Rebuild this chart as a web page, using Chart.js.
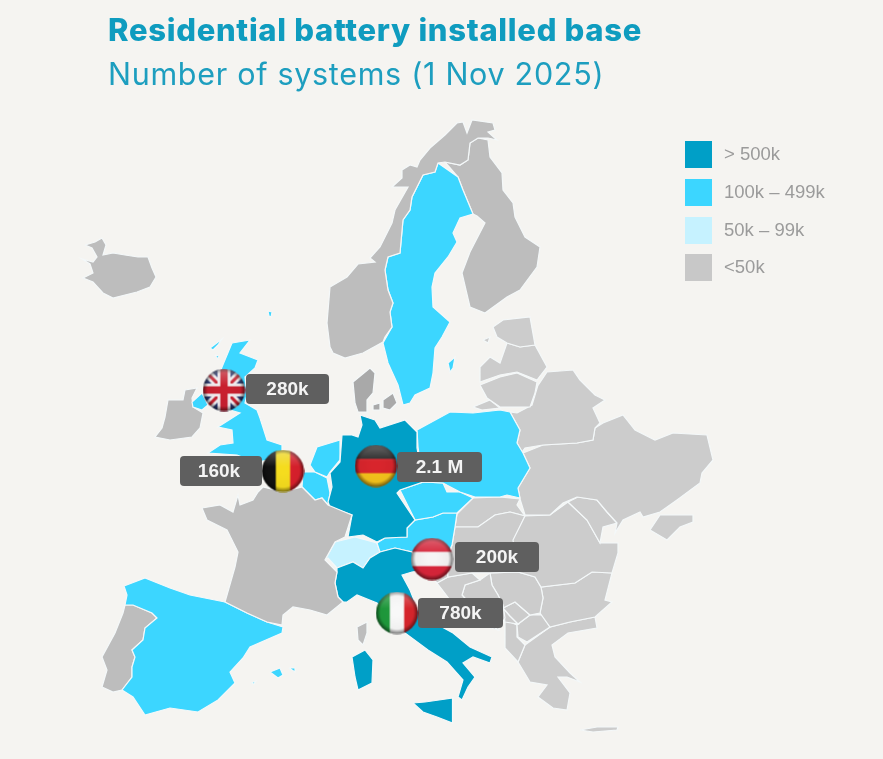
<!DOCTYPE html>
<html>
<head>
<meta charset="utf-8">
<title>Residential battery installed base</title>
<script src="https://cdn.jsdelivr.net/npm/chart.js@4/dist/chart.umd.min.js"></script>
<style>
    html, body { margin: 0; padding: 0; background: #f5f4f1; }
    #wrap { position: relative; width: 883px; height: 759px; overflow: hidden; }
    #mapChart { position: absolute; left: 0; top: 0; }
    .title, .subtitle { position: absolute; left: 108px; white-space: nowrap; color: #0f9cbf; font-family: Inter, sans-serif; }
    .title { top: 11px; font-size: 31px; font-weight: 800; letter-spacing: 0.7px; }
    .subtitle { top: 55px; font-size: 30.5px; font-weight: 400; letter-spacing: 0.7px; color: #1d9ebf; }
    .legend-swatch { position: absolute; left: 685px; width: 27px; height: 27px; }
    .legend-label { position: absolute; left: 724px; font: 18.5px "Liberation Sans", sans-serif; color: #9b9b9b; white-space: nowrap; }
</style>
</head>
<body>
<div id="wrap">
    <canvas id="mapChart" width="883" height="759"></canvas>
    <div class="title">Residential battery installed base</div>
    <div class="subtitle">Number of systems (1 Nov 2025)</div>
</div>
<script>
// Legend tiers
const tierLabels = ['> 500k', '100k – 499k', '50k – 99k', '<50k'];
const tierColors = ['#009fc7', '#3cd6ff', '#c6f2ff', '#c8c8c8'];
const legendTops = [141, 179, 217, 254];

// Called out countries
const calloutCountries = ['UK', 'Belgium', 'Germany', 'Austria', 'Italy'];
const calloutValues = ['280k', '160k', '2.1 M', '200k', '780k'];
const flagX = [224, 283, 376, 432, 397];
const flagY = [390, 471, 466, 559, 613];
const badgeLeft = [246, 180, 397, 455, 418];
const badgeRight = [329, 262, 482, 539, 503];
const badgeMid = [389, 471, 467, 557, 613];

// Which tier each country sits in
const tierHigh = ['Germany', 'Italy'];
const tierMid = ['UK', 'Belgium', 'Netherlands', 'Poland', 'Czechia', 'Austria', 'Spain', 'Sweden'];
const tierLow = ['Switzerland'];
const westGreys = ['Norway', 'Finland', 'France', 'Portugal', 'Ireland', 'Iceland', 'Corsica'];
const darkGreys = ['Denmark'];

// Outlines, x/y in image pixels, one list per land part
const iceland = [[85,245],[95,242],[102,238],[106,245],[103,255],[113,253],[125,255],[138,257],[148,257],[152,268],[156,277],[150,287],[137,292],[113,298],[103,293],[93,282],[83,278],[93,273],[90,264],[82,259],[93,262],[97,257],[92,248]];
const norway = [[330,347],[327,323],[330,287],[347,277],[358,264],[375,262],[370,258],[380,247],[392,223],[395,210],[408,187],[392,187],[402,178],[402,170],[410,165],[417,167],[420,160],[430,148],[445,135],[457,123],[463,122],[467,133],[472,120],[493,123],[495,130],[488,132],[497,140],[488,138],[478,138],[470,143],[468,160],[460,165],[445,162],[438,163],[435,172],[423,175],[417,187],[412,197],[410,210],[403,220],[400,253],[388,257],[385,270],[388,290],[393,303],[390,312],[392,327],[385,337],[383,342],[363,353],[345,358],[333,353]];
const sweden = [[438,163],[458,177],[463,190],[473,214],[460,218],[453,233],[457,242],[448,257],[435,273],[432,287],[433,307],[450,322],[442,337],[435,348],[433,373],[430,388],[415,395],[410,403],[403,405],[398,385],[388,363],[383,343],[392,327],[390,312],[393,303],[388,290],[385,270],[388,257],[400,253],[403,220],[410,210],[412,197],[417,187],[423,175],[435,172]];
const gotland = [[448,363],[455,357],[453,368],[450,372]];
const finland = [[445,162],[460,165],[468,160],[470,143],[478,138],[488,140],[490,157],[502,173],[503,190],[513,203],[515,217],[525,237],[540,247],[537,267],[520,290],[507,297],[485,313],[470,307],[462,273],[470,252],[485,223],[477,216],[473,214],[463,190],[458,177]];
const jutland = [[353,382],[370,368],[375,373],[373,393],[367,400],[367,412],[358,412],[355,403]];
const funen = [[373,405],[380,403],[380,410],[373,410]];
const zealand = [[383,400],[393,393],[397,403],[390,410],[383,408]];
const britain = [[232,343],[250,340],[240,353],[258,360],[255,368],[245,377],[247,395],[245,403],[257,410],[260,418],[267,440],[282,445],[282,453],[270,460],[255,462],[237,455],[208,453],[220,445],[233,443],[232,430],[218,427],[240,413],[230,410],[235,400],[225,390],[218,378],[222,367]];
const northernIreland = [[192,402],[202,393],[208,405],[202,410],[193,407]];
const hebrides = [[210,348],[222,339],[218,345],[213,350]];
const skye = [[215,355],[219,356],[218,359]];
const shetland = [[268,311],[272,312],[271,317],[269,316]];
const ireland = [[185,390],[197,388],[192,398],[193,407],[203,413],[200,428],[192,437],[170,440],[155,437],[162,428],[165,417],[168,400],[183,400]];
const france = [[202,508],[220,505],[233,512],[238,495],[240,505],[253,500],[258,492],[263,487],[283,492],[302,487],[315,500],[322,498],[328,505],[352,515],[345,537],[335,542],[325,560],[337,572],[335,583],[338,597],[343,602],[327,615],[310,610],[293,607],[283,615],[282,625],[267,622],[247,613],[225,602],[235,567],[238,552],[227,530],[207,520]];
const spain = [[124,586],[145,578],[170,588],[190,595],[225,602],[247,613],[267,622],[283,627],[282,633],[250,647],[243,658],[230,672],[235,683],[218,700],[198,712],[170,708],[145,715],[133,697],[122,690],[132,677],[132,667],[135,657],[132,650],[143,640],[145,628],[157,618],[152,613],[133,605],[125,605],[127,595]];
const mallorca = [[270,672],[280,668],[283,675],[278,678]];
const menorca = [[289,668],[295,668],[295,672]];
const ibiza = [[251,683],[256,681],[254,684]];
const portugal = [[125,605],[133,605],[152,613],[157,618],[145,628],[143,640],[132,650],[135,657],[132,667],[132,677],[122,690],[113,692],[102,687],[107,670],[102,657],[115,633],[123,613]];
const corsica = [[357,627],[367,622],[367,633],[363,645],[358,640]];
const sardinia = [[352,657],[365,650],[373,660],[372,683],[358,690],[355,677]];
const italy = [[337,568],[353,562],[363,568],[370,558],[380,552],[395,548],[412,552],[425,570],[412,572],[402,575],[410,590],[420,615],[453,633],[470,647],[492,657],[490,663],[473,657],[463,663],[475,677],[468,687],[462,700],[458,697],[463,680],[447,662],[428,650],[405,633],[377,603],[357,595],[347,602],[343,602],[338,597],[335,583],[337,572]];
const sicily = [[413,703],[425,702],[453,698],[453,708],[452,723],[437,717],[423,712]];
const germany = [[360,415],[375,420],[380,428],[405,420],[417,432],[417,448],[423,482],[400,490],[397,493],[415,520],[407,528],[407,537],[385,538],[377,542],[363,535],[348,537],[352,515],[330,507],[328,502],[332,487],[330,473],[340,462],[342,435],[352,435],[358,437],[362,425]];
const netherlands = [[310,465],[317,447],[340,440],[340,460],[330,472],[327,477],[315,472]];
const belgium = [[303,472],[315,472],[327,478],[330,493],[328,505],[322,498],[315,500],[302,487]];
const poland = [[417,430],[450,412],[473,413],[500,410],[510,412],[520,430],[517,443],[523,453],[530,468],[518,488],[520,498],[507,495],[500,497],[475,497],[460,492],[443,483],[423,482],[418,447]];
const czechia = [[400,490],[423,482],[443,483],[447,492],[460,492],[473,498],[457,513],[443,513],[433,517],[415,520]];
const austria = [[407,528],[415,520],[433,517],[443,513],[457,513],[455,527],[452,545],[445,560],[425,570],[412,552],[395,548],[380,552],[377,543],[385,538],[407,537]];
const switzerland = [[325,560],[335,542],[355,537],[377,543],[380,552],[370,558],[363,568],[353,562],[337,568],[328,558]];
const estonia = [[493,327],[503,320],[530,317],[535,345],[520,347],[507,343],[497,337]];
const saaremaa = [[483,340],[490,337],[488,343]];
const latvia = [[480,367],[490,357],[500,363],[507,343],[520,347],[535,345],[547,367],[537,380],[517,372],[500,375],[480,382]];
const lithuania = [[480,385],[500,377],[517,373],[537,382],[535,393],[530,407],[500,407],[487,398]];
const kaliningrad = [[473,407],[490,400],[500,408],[482,410]];
const belarus = [[537,387],[547,372],[573,370],[580,380],[595,395],[605,400],[593,408],[600,423],[595,428],[593,440],[577,443],[543,445],[525,448],[522,452],[517,443],[520,430],[510,412],[517,413],[532,405],[538,385]];
const ukraine = [[523,453],[543,445],[577,443],[593,440],[595,428],[603,423],[623,415],[635,430],[655,440],[673,433],[707,435],[713,460],[702,473],[700,483],[677,500],[660,512],[643,517],[640,512],[623,520],[615,533],[617,523],[607,512],[597,500],[577,497],[563,503],[550,515],[525,515],[520,499],[518,488],[530,468]];
const crimea = [[650,530],[660,515],[670,515],[693,515],[693,522],[680,527],[667,540]];
const moldova = [[568,502],[578,497],[597,500],[607,512],[617,523],[603,527],[600,543],[587,520]];
const romania = [[525,516],[550,515],[568,502],[587,520],[600,543],[618,543],[618,553],[612,573],[592,572],[575,583],[541,587],[535,577],[518,572],[513,540]];
const hungary = [[455,527],[478,527],[495,515],[510,512],[525,516],[515,538],[513,550],[518,572],[490,573],[472,573],[448,577],[447,560],[452,545]];
const slovakia = [[457,514],[473,498],[500,497],[520,499],[517,505],[525,516],[510,512],[495,515],[478,527],[455,527]];
const slovenia = [[425,570],[445,560],[448,577],[437,583]];
const croatia = [[437,583],[448,577],[472,573],[480,580],[465,585],[462,595],[480,615],[498,630],[480,625],[450,600]];
const bosnia = [[465,585],[480,580],[490,573],[492,585],[498,595],[503,605],[505,618],[498,630],[480,615],[462,595]];
const serbia = [[490,573],[518,572],[535,577],[541,587],[543,598],[540,613],[530,615],[515,602],[503,608],[498,595],[492,585]];
const kosovo = [[503,608],[515,602],[530,615],[518,624],[510,616]];
const montenegro = [[503,608],[510,616],[518,624],[505,622]];
const bulgaria = [[541,587],[575,583],[592,572],[612,573],[605,600],[612,602],[595,617],[570,622],[550,627],[540,613],[543,598]];
const macedonia = [[517,625],[530,615],[542,615],[550,627],[527,642],[518,637]];
const albania = [[505,620],[517,625],[517,637],[525,645],[518,662],[505,648]];
const greece = [[525,645],[550,627],[570,622],[595,617],[597,628],[568,633],[552,645],[555,657],[570,673],[580,682],[567,677],[558,677],[570,693],[567,710],[553,708],[538,697],[547,685],[530,682],[518,662]];
const crete = [[580,730],[597,727],[618,727],[617,730],[593,732]];

const countries = {
    Iceland: [iceland], Norway: [norway], Sweden: [sweden, gotland], Finland: [finland],
    Denmark: [jutland, funen, zealand], UK: [britain, northernIreland, hebrides, skye, shetland],
    Ireland: [ireland], France: [france], Spain: [spain, mallorca, menorca, ibiza],
    Portugal: [portugal], Corsica: [corsica], Italy: [italy, sardinia, sicily],
    Germany: [germany], Netherlands: [netherlands], Belgium: [belgium], Poland: [poland],
    Czechia: [czechia], Austria: [austria], Switzerland: [switzerland],
    Estonia: [estonia, saaremaa], Latvia: [latvia], Lithuania: [lithuania], Kaliningrad: [kaliningrad],
    Belarus: [belarus], Ukraine: [ukraine, crimea], Moldova: [moldova], Romania: [romania],
    Hungary: [hungary], Slovakia: [slovakia], Slovenia: [slovenia], Croatia: [croatia],
    Bosnia: [bosnia], Serbia: [serbia], Kosovo: [kosovo], Montenegro: [montenegro], Bulgaria: [bulgaria],
    Macedonia: [macedonia], Albania: [albania], Greece: [greece, crete]
};

function countryColor(name) {
    if (tierHigh.includes(name)) return tierColors[0];
    if (tierMid.includes(name)) return tierColors[1];
    if (tierLow.includes(name)) return tierColors[2];
    if (darkGreys.includes(name)) return '#a9a9a9';
    if (westGreys.includes(name)) return '#bdbdbd';
    return '#cccccc';
}

// Flag stripes, vertical or horizontal, under a glossy ball shading
function drawFlag(ctx, name, s) {
    const stripes = (colors, vertical) => {
        const n = colors.length;
        colors.forEach((c, i) => {
            ctx.fillStyle = c;
            if (vertical) ctx.fillRect(i * s / n, 0, s / n + 1, s);
            else ctx.fillRect(0, i * s / n, s, s / n + 1);
        });
    };
    if (name === 'UK') {
        ctx.fillStyle = '#27356f';
        ctx.fillRect(0, 0, s, s);
        ctx.lineCap = 'butt';
        [['#f2eef0', 0.2], ['#c8202f', 0.07]].forEach(([c, w]) => {
            ctx.strokeStyle = c;
            ctx.lineWidth = w * s;
            ctx.beginPath();
            ctx.moveTo(0, 0); ctx.lineTo(s, s);
            ctx.moveTo(s, 0); ctx.lineTo(0, s);
            ctx.stroke();
        });
        [['#f2eef0', 0.3], ['#c8202f', 0.17]].forEach(([c, w]) => {
            ctx.fillStyle = c;
            ctx.fillRect(s / 2 - w * s / 2, 0, w * s, s);
            ctx.fillRect(0, s / 2 - w * s / 2, s, w * s);
        });
    } else if (name === 'Belgium') {
        stripes(['#111111', '#f5dc1e', '#d8202c'], true);
    } else if (name === 'Germany') {
        stripes(['#2a2a2a', '#d8252c', '#f4c21c'], false);
    } else if (name === 'Austria') {
        stripes(['#d8253a', '#f6f4f4', '#d8253a'], false);
    } else {
        stripes(['#1f9a3c', '#f8f8f8', '#d8252c'], true);
    }
}

function makeFlag(name) {
    const s = 43;
    const c = document.createElement('canvas');
    c.width = s;
    c.height = s;
    const ctx = c.getContext('2d');
    ctx.beginPath();
    ctx.arc(s / 2, s / 2, s / 2 - 0.5, 0, Math.PI * 2);
    ctx.clip();
    drawFlag(ctx, name, s);
    const shade = ctx.createRadialGradient(s / 2, s * 0.46, s * 0.12, s / 2, s / 2, s / 2);
    shade.addColorStop(0, 'rgba(0,0,0,0)');
    shade.addColorStop(0.7, 'rgba(0,0,0,0.03)');
    shade.addColorStop(1, 'rgba(0,0,0,0.6)');
    ctx.fillStyle = shade;
    ctx.fillRect(0, 0, s, s);
    const gloss = ctx.createLinearGradient(0, 0, 0, s * 0.4);
    gloss.addColorStop(0, 'rgba(255,255,255,0.3)');
    gloss.addColorStop(1, 'rgba(255,255,255,0)');
    ctx.fillStyle = gloss;
    ctx.fillRect(0, 0, s, s * 0.4);
    return c;
}

// Value badges go under the flags, so paint them right before the flag dataset
const badgePlugin = {
    id: 'badges',
    beforeDatasetDraw(chart, args) {
        if (args.index !== 0) return;
        const ctx = chart.ctx;
        const yScale = chart.scales.y;
        const xScale = chart.scales.x;
        calloutValues.forEach((value, i) => {
            const left = xScale.getPixelForValue(badgeLeft[i]);
            const right = xScale.getPixelForValue(badgeRight[i]);
            const mid = yScale.getPixelForValue(badgeMid[i]);
            ctx.save();
            ctx.fillStyle = '#5f5f5f';
            ctx.beginPath();
            ctx.roundRect(left, mid - 15, right - left, 30, 4);
            ctx.fill();
            ctx.fillStyle = '#f4f4f4';
            ctx.font = 'bold 19px "Liberation Sans", sans-serif';
            ctx.textAlign = 'center';
            ctx.textBaseline = 'middle';
            ctx.fillText(value, (left + right) / 2 + (i === 1 ? -2 : 0), mid + 1);
            ctx.restore();
        });
    }
};

document.addEventListener('DOMContentLoaded', function() {
    const wrap = document.getElementById('wrap');

    // Legend
    tierLabels.forEach((label, i) => {
        const swatch = document.createElement('div');
        swatch.className = 'legend-swatch';
        swatch.style.top = legendTops[i] + 'px';
        swatch.style.background = tierColors[i];
        wrap.appendChild(swatch);
        const text = document.createElement('div');
        text.className = 'legend-label';
        text.style.top = (legendTops[i] + 2) + 'px';
        text.textContent = label;
        wrap.appendChild(text);
    });

    // Flags first: Chart.js paints dataset 0 on top
    const datasets = [{
        label: 'Flags',
        data: flagX.map((x, i) => ({ x: x, y: flagY[i] })),
        showLine: false,
        pointStyle: calloutCountries.map(makeFlag),
        pointRadius: 21
    }];

    Object.keys(countries).forEach(name => {
        countries[name].forEach(part => {
            const ring = part.concat([part[0]]);
            datasets.push({
                label: name,
                data: ring.map(p => ({ x: p[0], y: p[1] })),
                showLine: true,
                fill: 'shape',
                tension: 0,
                backgroundColor: countryColor(name),
                borderColor: '#f4f8f9',
                borderWidth: 1.2,
                pointRadius: 0
            });
        });
    });

    new Chart(document.getElementById('mapChart'), {
        type: 'scatter',
        data: { datasets: datasets },
        plugins: [badgePlugin],
        options: {
            responsive: false,
            animation: false,
            events: [],
            layout: { autoPadding: false, padding: 0 },
            plugins: {
                legend: { display: false },
                tooltip: { enabled: false }
            },
            scales: {
                x: { type: 'linear', min: 0, max: 883, display: false },
                y: { type: 'linear', min: 0, max: 759, reverse: true, display: false }
            }
        }
    });
});
</script>
</body>
</html>
